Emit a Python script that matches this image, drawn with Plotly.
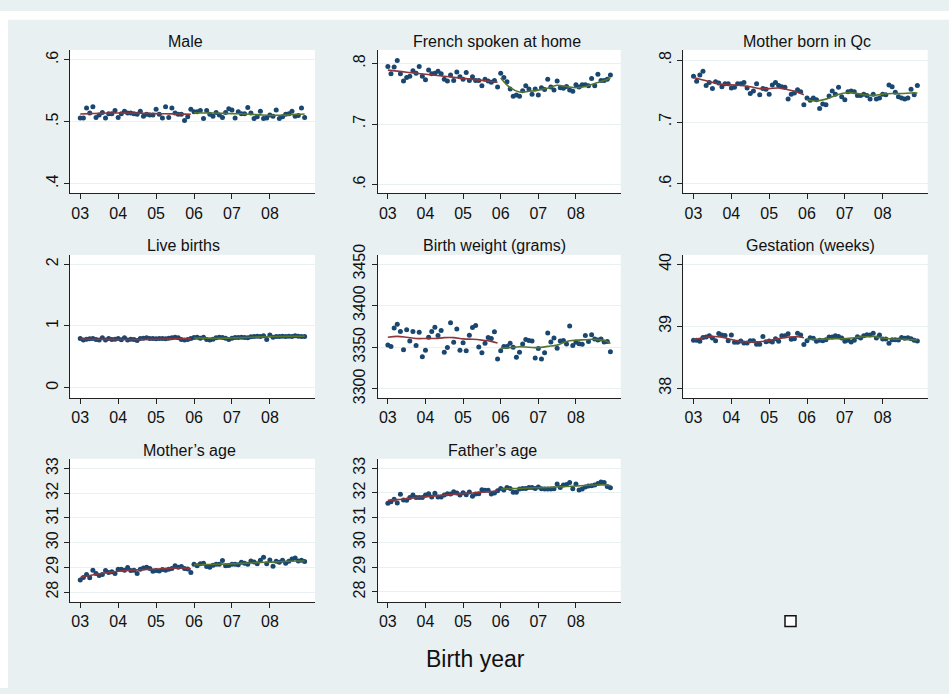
import plotly.graph_objects as go

W, H = 949, 694

# ---------------- data ----------------
months = list(range(72))          # Jan 2003 .. Dec 2008
knots_a = [0, 3, 6, 9, 12, 15, 18, 21, 24, 27, 30, 33, 35]
knots_b = [36, 39, 42, 45, 48, 51, 54, 57, 60, 63, 66, 69, 71]
year_ticks = [0, 12, 24, 36, 48, 60]
year_labels = ["03", "04", "05", "06", "07", "08"]

titles = ["Male", "French spoken at home", "Mother born in Qc", "Live births",
          "Birth weight (grams)", "Gestation (weeks)", "Mother\u2019s age", "Father\u2019s age"]

male = [.506, .506, .522, .514, .524, .507, .511, .515, .506, .513, .513, .518,
        .507, .513, .517, .514, .514, .513, .512, .517, .509, .512, .511, .511,
        .520, .512, .506, .524, .507, .522, .514, .512, .512, .502, .508, .520,
        .516, .516, .518, .505, .518, .512, .509, .515, .511, .507, .515, .521,
        .519, .506, .516, .513, .513, .523, .514, .505, .508, .517, .505, .506,
        .511, .509, .519, .505, .508, .512, .513, .517, .509, .510, .522, .507]
male_fit_a = [.5125, .513, .5135, .514, .514, .514, .5138, .5135, .513, .5128, .5125, .5122, .512]
male_fit_b = [.5145, .5142, .514, .5135, .513, .5128, .512, .511, .5103, .5105, .511, .512, .5125]

french = [.795, .783, .794, .805, .783, .771, .777, .779, .788, .784, .795, .779,
          .773, .789, .783, .784, .787, .783, .774, .771, .781, .772, .786, .778,
          .774, .785, .772, .778, .772, .772, .763, .774, .771, .769, .772, .761,
          .784, .777, .770, .758, .746, .748, .746, .755, .763, .758, .749, .758,
          .748, .760, .757, .774, .761, .756, .771, .760, .759, .762, .756, .754,
          .765, .761, .765, .765, .763, .775, .763, .782, .772, .772, .774, .781]
french_fit_a = [.789, .7873, .7856, .7839, .7822, .7805, .7788, .7771, .7754, .7737, .772, .7703, .769]
french_fit_b = [.776, .760, .753, .754, .756, .759, .764, .762, .760, .762, .767, .772, .776]

qc = [.774, .766, .776, .782, .759, .764, .754, .765, .763, .757, .762, .762,
      .755, .756, .762, .762, .764, .755, .746, .750, .762, .744, .754, .753,
      .745, .760, .764, .759, .757, .756, .737, .745, .747, .752, .749, .728,
      .739, .735, .739, .736, .722, .729, .728, .742, .750, .745, .756, .741,
      .736, .749, .750, .749, .743, .743, .745, .743, .737, .745, .737, .739,
      .745, .744, .760, .757, .748, .741, .739, .737, .739, .753, .744, .759]
qc_fit_a = [.772, .768, .764, .761, .760, .759, .757, .754, .754, .755, .752, .748, .744]
qc_fit_b = [.736, .734, .737, .743, .747, .747, .744, .743, .745, .746, .746, .747, .747]

births = [.797, .770, .786, .792, .797, .781, .770, .807, .770, .797, .781, .786,
          .797, .776, .807, .770, .786, .781, .765, .797, .802, .807, .797, .797,
          .792, .797, .797, .792, .802, .807, .818, .807, .781, .770, .781, .797,
          .813, .818, .802, .818, .781, .770, .786, .807, .818, .813, .802, .781,
          .802, .813, .813, .818, .813, .807, .823, .829, .834, .829, .839, .781,
          .855, .818, .829, .829, .834, .829, .834, .829, .839, .834, .829, .829]
births_fit_a = [.787, .785, .783, .782, .781, .780, .780, .782, .785, .789, .792, .792, .790]
births_fit_b = [.805, .802, .798, .800, .805, .810, .817, .822, .826, .829, .831, .832, .832]

weight = [3352.8, 3351, 3373, 3377.5, 3369, 3347, 3371, 3357.5, 3369, 3352, 3368, 3338.6,
          3346.5, 3362, 3369, 3374, 3364, 3370, 3344, 3349.6, 3379.5, 3356, 3372, 3346.5,
          3355.5, 3345.7, 3364.5, 3373.6, 3376, 3350.4, 3343.3, 3354.7, 3361.8, 3360.6, 3368.5, 3335.9,
          3345.7, 3351, 3351, 3354.7, 3350, 3338, 3344, 3354, 3359.4, 3358, 3357.5, 3337,
          3348.4, 3335.9, 3343.3, 3367, 3356.3, 3361, 3348.8, 3357.5, 3358, 3354, 3375.5, 3352,
          3356, 3354.3, 3353.5, 3364, 3357, 3365, 3359.8, 3358.6, 3359.8, 3356.3, 3357, 3344.5]
weight_fit_a = [3362, 3363, 3362, 3360.5, 3360.5, 3360.5, 3361.5, 3361.5, 3360, 3359.5, 3358.5, 3357, 3355]
weight_fit_b = [3349, 3349.5, 3350.5, 3350, 3349.5, 3351, 3352.5, 3357, 3358.5, 3359, 3359.5, 3358, 3354.5]

gest = [38.773, 38.773, 38.757, 38.82, 38.826, 38.847, 38.81, 38.768, 38.884, 38.858, 38.852, 38.768,
        38.858, 38.741, 38.741, 38.763, 38.731, 38.731, 38.768, 38.768, 38.71, 38.71, 38.836, 38.752,
        38.763, 38.747, 38.80, 38.757, 38.847, 38.847, 38.879, 38.789, 38.80, 38.889, 38.858, 38.704,
        38.768, 38.815, 38.805, 38.757, 38.773, 38.768, 38.784, 38.826, 38.826, 38.847, 38.836, 38.81,
        38.757, 38.773, 38.747, 38.773, 38.831, 38.81, 38.847, 38.863, 38.858, 38.889, 38.81, 38.858,
        38.794, 38.794, 38.726, 38.784, 38.784, 38.778, 38.82, 38.805, 38.815, 38.80, 38.773, 38.763]
gest_fit_a = [38.784, 38.815, 38.835, 38.825, 38.785, 38.755, 38.748, 38.750, 38.770, 38.80, 38.825, 38.83, 38.815]
gest_fit_b = [38.79, 38.79, 38.795, 38.80, 38.80, 38.815, 38.83, 38.835, 38.81, 38.795, 38.79, 38.785, 38.78]

mage = [28.485, 28.59, 28.71, 28.58, 28.88, 28.75, 28.67, 28.71, 28.87, 28.79, 28.82, 28.75,
        28.92, 28.92, 28.88, 28.99, 28.87, 28.88, 28.75, 28.92, 28.97, 29.01, 28.95, 28.84,
        28.87, 28.85, 28.91, 28.88, 28.92, 28.95, 29.07, 29.01, 29.04, 28.95, 28.93, 28.79,
        29.13, 29.07, 29.15, 29.17, 29.04, 29.01, 29.09, 29.13, 29.13, 29.28, 29.07, 29.08,
        29.13, 29.13, 29.11, 29.21, 29.17, 29.13, 29.26, 29.22, 29.15, 29.29, 29.41, 29.15,
        29.30, 29.05, 29.25, 29.21, 29.29, 29.17, 29.25, 29.34, 29.38, 29.26, 29.29, 29.24]
mage_fit_a = [28.59, 28.67, 28.74, 28.79, 28.84, 28.88, 28.90, 28.92, 28.93, 28.95, 28.97, 28.97, 28.93]
mage_fit_b = [29.11, 29.11, 29.12, 29.13, 29.14, 29.16, 29.18, 29.20, 29.21, 29.23, 29.25, 29.26, 29.26]

fage = [31.58, 31.64, 31.74, 31.59, 31.95, 31.71, 31.70, 31.82, 31.92, 31.82, 31.82, 31.82,
        31.92, 31.97, 31.84, 31.99, 31.84, 31.84, 31.92, 31.97, 31.96, 32.05, 32.0, 31.92,
        32.01, 31.93, 32.04, 31.87, 31.96, 31.97, 32.13, 32.11, 32.11, 31.96, 32.0, 32.09,
        32.18, 32.12, 32.22, 32.18, 32.03, 32.03, 32.16, 32.18, 32.18, 32.22, 32.22, 32.18,
        32.24, 32.17, 32.16, 32.16, 32.16, 32.17, 32.36, 32.22, 32.32, 32.34, 32.42, 32.17,
        32.36, 32.12, 32.16, 32.24, 32.28, 32.29, 32.32, 32.38, 32.44, 32.42, 32.26, 32.21]
fage_fit_a = [31.70, 31.73, 31.77, 31.81, 31.84, 31.88, 31.91, 31.94, 31.97, 32.00, 32.03, 32.06, 32.09]
fage_fit_b = [32.16, 32.17, 32.18, 32.20, 32.21, 32.22, 32.24, 32.26, 32.28, 32.30, 32.32, 32.32, 32.30]

prop_ticks = [.4, .5, .6]
prop_labels = [".4", ".5", ".6"]
prop_ticks2 = [.6, .7, .8]
prop_labels2 = [".6", ".7", ".8"]
births_ticks = [0, 1, 2]
weight_ticks = [3300, 3350, 3400, 3450]
gest_ticks = [38, 39, 40]
age_ticks = [28, 29, 30, 31, 32, 33]

panels = [
    (male, male_fit_a, male_fit_b, prop_ticks, prop_labels, [.3842, .6158]),
    (french, french_fit_a, french_fit_b, prop_ticks2, prop_labels2, [.5854, .8222]),
    (qc, qc_fit_a, qc_fit_b, prop_ticks2, prop_labels2, [.5847, .8163]),
    (births, births_fit_a, births_fit_b, births_ticks, [str(t) for t in births_ticks], [-0.169, 2.153]),
    (weight, weight_fit_a, weight_fit_b, weight_ticks, [str(t) for t in weight_ticks], [3289, 3461]),
    (gest, gest_fit_a, gest_fit_b, gest_ticks, [str(t) for t in gest_ticks], [37.842, 40.153]),
    (mage, mage_fit_a, mage_fit_b, age_ticks, [str(t) for t in age_ticks], [27.604, 33.396]),
    (fage, fage_fit_a, fage_fit_b, age_ticks, [str(t) for t in age_ticks], [27.6, 33.38]),
]

# ---------------- layout geometry (pixels) ----------------
col_px = [(70, 315), (377.7, 620.7), (683.3, 927.7)]
row_px = [(40, 187), (250, 396.7), (459, 605.7)]
title_pos = [(185, 31), (497, 31), (807, 31), (183, 240), (494, 240), (810, 240), (189, 451), (492, 451)]

NAVY = "#1a476f"
MAROON = "#90353b"
GREEN = "#55752f"
BG = "#E8F0F2"
FONT = "Liberation Sans, Arial, sans-serif"

fig = go.Figure()
layout = {}
annotations = []

for k, (vals, fa, fb, ticks, tlabels, yr) in enumerate(panels):
    r, c = divmod(k, 3)
    x0, x1 = col_px[c]
    yt, yb = row_px[r]
    xa = "x" if k == 0 else f"x{k+1}"
    ya = "y" if k == 0 else f"y{k+1}"
    xkey = "xaxis" if k == 0 else f"xaxis{k+1}"
    ykey = "yaxis" if k == 0 else f"yaxis{k+1}"

    fig.add_trace(go.Scatter(x=months, y=vals, mode="markers", xaxis=xa, yaxis=ya,
                             marker=dict(color=NAVY, size=5, line=dict(width=0)),
                             showlegend=False, hoverinfo="skip"))
    fig.add_trace(go.Scatter(x=knots_a, y=fa, mode="lines", xaxis=xa, yaxis=ya,
                             line=dict(color=MAROON, width=1.6, shape="spline"),
                             showlegend=False, hoverinfo="skip"))
    fig.add_trace(go.Scatter(x=knots_b, y=fb, mode="lines", xaxis=xa, yaxis=ya,
                             line=dict(color=GREEN, width=1.6, shape="spline"),
                             showlegend=False, hoverinfo="skip"))

    xmin = -0.27 * 12
    xmax = 6.19 * 12
    layout[xkey] = dict(domain=[x0 / W, x1 / W], anchor=ya, range=[xmin, xmax],
                        tickvals=year_ticks, ticktext=year_labels, showgrid=False,
                        zeroline=False, showline=True, linecolor="#222", linewidth=1,
                        ticks="outside", ticklen=5, tickcolor="#222", tickwidth=1,
                        tickfont=dict(family=FONT, size=16, color="#111"))
    layout[ykey] = dict(domain=[1 - yb / H, 1 - yt / H], anchor=xa, range=yr,
                        tickvals=ticks, ticktext=tlabels, tickangle=-90,
                        showgrid=True, gridcolor=BG, gridwidth=1.2, zeroline=False,
                        showline=True, linecolor="#222", linewidth=1,
                        ticks="outside", ticklen=5, tickcolor="#222", tickwidth=1,
                        tickfont=dict(family=FONT, size=16, color="#111"))

    tx, ty = title_pos[k]
    annotations.append(dict(text=titles[k], x=tx / W, y=1 - ty / H, xref="paper", yref="paper",
                            xanchor="center", yanchor="middle", showarrow=False,
                            font=dict(family=FONT, size=16, color="#111")))

annotations.append(dict(text="Birth year", x=475 / W, y=1 - 664 / H, xref="paper", yref="paper",
                        xanchor="center", yanchor="middle", showarrow=False,
                        font=dict(family=FONT, size=23, color="#111")))

shapes = [
    dict(type="rect", xref="paper", yref="paper", x0=0, x1=8 / W, y0=0, y1=1,
         fillcolor="white", line=dict(width=0), layer="below"),
    dict(type="rect", xref="paper", yref="paper", x0=0, x1=1, y0=1 - 9 / H, y1=1,
         fillcolor="white", line=dict(width=0), layer="below"),
    dict(type="rect", xref="paper", yref="paper", x0=785 / W, x1=796 / W,
         y0=1 - 631 / H, y1=1 - 620 / H, fillcolor="white",
         line=dict(color="#111", width=1.5)),
]

fig.update_layout(width=W, height=H, margin=dict(l=0, r=0, t=0, b=0),
                  paper_bgcolor=BG, plot_bgcolor="white",
                  annotations=annotations, shapes=shapes, showlegend=False,
                  **layout)

fig.write_html("out.html")
